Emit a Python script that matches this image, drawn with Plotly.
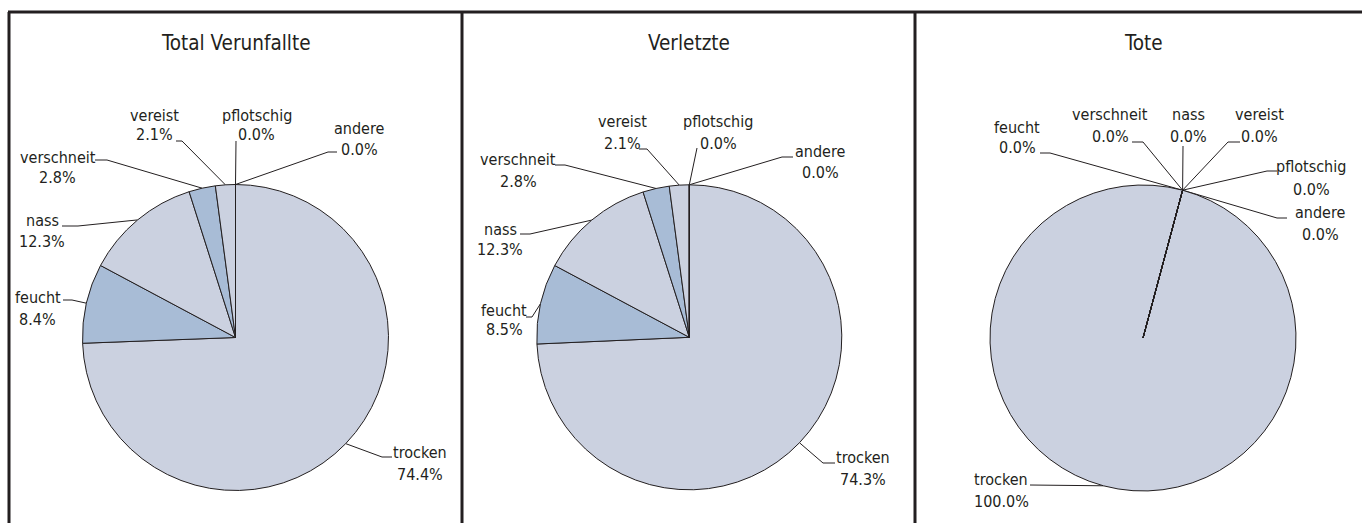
import math
import plotly.graph_objects as go

# ---------------- data ----------------
CATEGORIES = ["trocken", "feucht", "nass", "verschneit", "vereist", "pflotschig", "andere"]
TOTAL_VERUNFALLTE = [74.4, 8.4, 12.3, 2.8, 2.1, 0.0, 0.0]
VERLETZTE = [74.3, 8.5, 12.3, 2.8, 2.1, 0.0, 0.0]
TOTE = [100.0, 0.0, 0.0, 0.0, 0.0, 0.0, 0.0]
PANEL_TITLES = ["Total Verunfallte", "Verletzte", "Tote"]
SERIES = [TOTAL_VERUNFALLTE, VERLETZTE, TOTE]

# ---------------- styling / layout ----------------
W, H = 1362, 523
LIGHT = "#CBD1E0"
DARK = "#A8BCD6"
INK = "#231F20"
SLICE_COLORS = [LIGHT, DARK, LIGHT, DARK, LIGHT, DARK, LIGHT]
FONT = "DejaVu Sans Condensed, Liberation Sans Narrow, Arial Narrow, sans-serif"
LABEL_SIZE = 16
TITLE_SIZE = 20.5

PIE_GEOM = [
    dict(cx=235.5, cy=337.5, r=153, rotation=0),
    dict(cx=689.3, cy=337.3, r=152.5, rotation=0),
    dict(cx=1143, cy=338, r=153, rotation=15),
]
TITLE_BASELINE = 50

# label placement per panel: text centre x, baseline line1, baseline line2,
# elbow point (x, y) of leader, end x of horizontal leader segment
LABEL_LAYOUT = [
    {
        "trocken": (420, 458, 480, 382, 457, 392),
        "feucht": (37.5, 303, 325, 72, 300, 63),
        "nass": (42, 226, 247, 78, 226, 62),
        "verschneit": (57.5, 163, 183, 107, 160, 95),
        "vereist": (154, 121, 140, 182, 141, 176),
        "pflotschig": (256.5, 121, 140, 236, 141, 236),
        "andere": (359, 134, 155, 328, 152, 337),
    },
    {
        "trocken": (863, 463, 485, 823, 463, 835),
        "feucht": (504, 316, 335, 532, 317, 526),
        "nass": (500, 235, 255, 530, 234, 520),
        "verschneit": (518, 165, 187, 565, 165, 555),
        "vereist": (622, 127, 149, 647, 149, 639),
        "pflotschig": (718, 127, 149, 697, 148, 697),
        "andere": (820, 157, 178, 782, 157, 793),
    },
    {
        "trocken": (1001, 485, 507, 1036, 485, 1030),
        "feucht": (1017, 133, 153, 1050, 153, 1040),
        "verschneit": (1110, 120, 142, 1143, 142, 1132),
        "nass": (1188, 120, 142, 1183, 146, 1183),
        "vereist": (1259, 120, 142, 1228, 142, 1240),
        "pflotschig": (1311, 172, 195, 1267, 171, 1277),
        "andere": (1320, 218, 240, 1277, 218, 1287),
    },
]

fig = go.Figure()
annotations = []

for p, (values, title, geom, labels) in enumerate(zip(SERIES, PANEL_TITLES, PIE_GEOM, LABEL_LAYOUT)):
    cx, cy, r, rot = geom["cx"], geom["cy"], geom["r"], geom["rotation"]
    fig.add_trace(go.Pie(
        labels=CATEGORIES,
        values=values,
        sort=False,
        direction="clockwise",
        rotation=rot,
        textinfo="none",
        hoverinfo="skip",
        showlegend=False,
        marker=dict(colors=SLICE_COLORS, line=dict(color=INK, width=1)),
        domain=dict(x=[(cx - r) / W, (cx + r) / W], y=[1 - (cy + r) / H, 1 - (cy - r) / H]),
    ))

    total = sum(values)
    cum = 0.0
    lx, ly = [], []
    for cat, v in zip(CATEGORIES, values):
        mid = rot + 360.0 * (cum + v / 2.0) / total
        cum += v
        ax = cx + r * math.sin(math.radians(mid))
        ay = cy - r * math.cos(math.radians(mid))
        tx, b1, b2, ex, ey, sx = labels[cat]
        lx += [ax, ex, sx, None]
        ly += [ay, ey, ey, None]
        annotations.append(dict(x=tx, y=b1 - 0.35 * LABEL_SIZE, text=cat, xref="x", yref="y",
                                showarrow=False, xanchor="center", yanchor="middle",
                                font=dict(family=FONT, size=LABEL_SIZE, color=INK)))
        annotations.append(dict(x=tx, y=b2 - 0.35 * LABEL_SIZE, text=f"{v:.1f}%", xref="x", yref="y",
                                showarrow=False, xanchor="center", yanchor="middle",
                                font=dict(family=FONT, size=LABEL_SIZE, color=INK)))
    fig.add_trace(go.Scatter(x=lx, y=ly, mode="lines", line=dict(color=INK, width=1),
                             hoverinfo="skip", showlegend=False))
    annotations.append(dict(x=cx, y=TITLE_BASELINE - 0.35 * TITLE_SIZE, text=title, xref="x", yref="y",
                            showarrow=False, xanchor="center", yanchor="middle",
                            font=dict(family=FONT, size=TITLE_SIZE, color=INK)))

shapes = [
    dict(type="line", xref="x", yref="y", x0=8, x1=W, y0=12, y1=12, line=dict(color=INK, width=3)),
    dict(type="line", xref="x", yref="y", x0=9, x1=9, y0=12, y1=H, line=dict(color=INK, width=3)),
    dict(type="line", xref="x", yref="y", x0=462, x1=462, y0=12, y1=H, line=dict(color=INK, width=3)),
    dict(type="line", xref="x", yref="y", x0=915, x1=915, y0=12, y1=H, line=dict(color=INK, width=3)),
]

fig.update_layout(
    width=W, height=H,
    margin=dict(l=0, r=0, t=0, b=0),
    paper_bgcolor="white", plot_bgcolor="rgba(0,0,0,0)",
    xaxis=dict(range=[0, W], visible=False, domain=[0, 1], fixedrange=True),
    yaxis=dict(range=[H, 0], visible=False, domain=[0, 1], fixedrange=True),
    annotations=annotations,
    shapes=shapes,
    font=dict(family=FONT, color=INK),
)

fig.write_html(
    "out.html",
    config={"displayModeBar": False},
    post_script="document.body.style.margin='0';document.body.style.overflow='hidden';",
)
